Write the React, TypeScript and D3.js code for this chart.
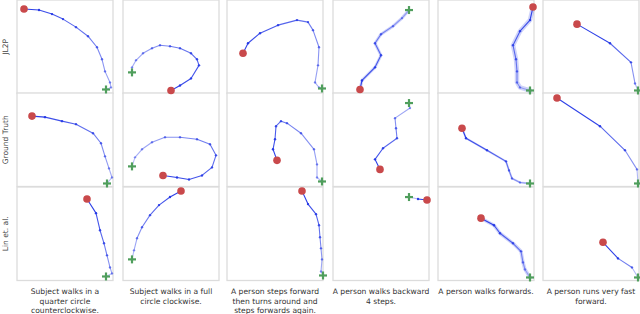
import React from "react";
import * as d3 from "d3";

const rowLabels = ["JL2P", "Ground Truth", "Lin et. al."];

const captions = [
  ["Subject walks in a", "quarter circle", "counterclockwise."],
  ["Subject walks in a full", "circle clockwise."],
  ["A person steps forward", "then turns around and", "steps forwards again."],
  ["A person walks backward", "4 steps."],
  ["A person walks forwards."],
  ["A person runs very fast", "forward."],
];

// Trajectory points in panel units (x: 0..96, y: 0..93). First = start (red dot), last = end (green plus).
const jl2pPaths: [number, number][][] = [
  [[7, 9], [22, 10], [35, 14], [46, 19], [59, 27], [71, 36], [80, 47], [85, 59], [88, 71], [93, 82], [94, 87], [89, 89]],
  [[48, 90], [57, 85], [68, 78], [76, 65], [74, 59], [68, 53], [57, 48], [47, 46], [37, 45], [29, 48], [20, 53], [13, 60], [9, 67], [9, 72]],
  [[16, 53], [21, 43], [33, 33], [51, 25], [70, 20], [81, 22], [86, 30], [92, 47], [91, 65], [88, 82], [92, 87], [95, 88]],
  [[27, 89], [29, 80], [42, 67], [48, 55], [42, 43], [48, 34], [60, 26], [69, 18], [76, 10]],
  [[95, 7], [92, 20], [82, 31], [75, 45], [78, 59], [79, 71], [79, 82], [82, 87], [92, 90]],
  [[34, 24], [67, 43], [88, 62], [92, 83], [95, 90]],
];

const truthPaths: [number, number][][] = [
  [[15, 23], [28, 24], [45, 28], [59, 31], [76, 40], [84, 50], [88, 63], [92, 75], [95, 84], [90, 90]],
  [[40, 82], [54, 84], [66, 86], [79, 82], [89, 74], [93, 62], [87, 51], [74, 46], [57, 44], [42, 44], [29, 49], [19, 56], [12, 64], [9, 73]],
  [[50, 67], [46, 56], [48, 46], [49, 33], [54, 28], [60, 30], [74, 40], [87, 56], [90, 71], [90, 84], [95, 88]],
  [[47, 76], [42, 66], [50, 55], [64, 45], [63, 35], [62, 25], [77, 15], [76, 10]],
  [[24, 35], [28, 45], [49, 57], [68, 68], [71, 77], [74, 85], [82, 89], [92, 90]],
  [[14, 5], [57, 33], [82, 57], [94, 76], [95, 90]],
];

const linPaths: [number, number][][] = [
  [[70, 12], [79, 26], [83, 43], [87, 56], [90, 68], [93, 80], [95, 86], [89, 89]],
  [[58, 4], [47, 10], [36, 18], [27, 28], [19, 40], [14, 51], [11, 63], [9, 72]],
  [[75, 4], [81, 17], [89, 27], [92, 38], [93, 50], [94, 61], [95, 72], [94, 84], [96, 88]],
  [[94, 13], [85, 12], [76, 10]],
  [[43, 31], [56, 38], [62, 46], [75, 56], [83, 64], [85, 75], [87, 82], [92, 90]],
  [[60, 55], [75, 71], [89, 80], [95, 90]],
];

// Uncertainty band widths (0 = none)
const bandWidths = [
  [0, 0, 0, 3, 4.5, 0],
  [0, 0, 0, 0, 2, 0],
  [0, 0, 0, 0, 3.5, 0],
];

const allRows = [jl2pPaths, truthPaths, linPaths];

const colLefts = [17, 123, 227, 333, 438, 543];
const rowTops = [0, 93, 187];
const PW = 96;
const PH = 93.5;

const BLUE = "rgb(35,55,230)";
const RED = "#c9494b";
const GREEN = "#4f9e5c";

function Panel({ pts, left, top, band }: { pts: [number, number][]; left: number; top: number; band: number }) {
  const x = d3.scaleLinear().domain([0, 96]).range([left, left + PW]);
  const y = d3.scaleLinear().domain([0, 93]).range([top, top + PH]);
  const line = d3.line<[number, number]>().x((d) => x(d[0])).y((d) => y(d[1]));
  const n = pts.length;
  const op = d3.scaleLinear().domain([0, n - 2]).range([0.95, 0.35]);
  const segs = d3.range(n - 1).map((i) => [pts[i], pts[i + 1]] as [number, number][]);
  const start = pts[0];
  const end = pts[n - 1];
  const cs = 4;
  return (
    <g>
      {band > 0 && (
        <path d={line(pts) || ""} fill="none" stroke={BLUE} strokeOpacity={0.22} strokeWidth={band} strokeLinejoin="round" strokeLinecap="round" />
      )}
      {segs.map((s, i) => (
        <path key={i} d={line(s) || ""} fill="none" stroke={BLUE} strokeOpacity={op(i)} strokeWidth={1.1} strokeLinecap="round" />
      ))}
      {pts.slice(1, n - 1).map((p, i) => (
        <circle key={"m" + i} cx={x(p[0])} cy={y(p[1])} r={1.2} fill={BLUE} fillOpacity={op(i)} />
      ))}
      <circle cx={x(start[0])} cy={y(start[1])} r={3.8} fill={RED} />
      <g stroke={GREEN} strokeWidth={2.2}>
        <line x1={x(end[0]) - cs} x2={x(end[0]) + cs} y1={y(end[1])} y2={y(end[1])} />
        <line x1={x(end[0])} x2={x(end[0])} y1={y(end[1]) - cs} y2={y(end[1]) + cs} />
      </g>
    </g>
  );
}

export default function App() {
  const font = "DejaVu Sans, sans-serif";
  return (
    <svg width={640} height={314} style={{ position: "absolute", left: 0, top: 0, background: "#fff" }}>
      <rect x={0} y={0} width={640} height={314} fill="#fff" />
      {rowTops.map((t, r) =>
        colLefts.map((l, c) => (
          <rect key={r + "-" + c} x={l} y={t} width={PW} height={PH} fill="#fff" stroke="#dcdcdc" strokeWidth={1.3} />
        ))
      )}
      {allRows.map((row, r) =>
        row.map((pts, c) => (
          <Panel key={r + "_" + c} pts={pts} left={colLefts[c]} top={rowTops[r]} band={bandWidths[r][c]} />
        ))
      )}
      {rowLabels.map((lab, r) => (
        <text
          key={lab}
          transform={`translate(8,${rowTops[r] + PH / 2}) rotate(-90)`}
          textAnchor="middle"
          fontFamily={font}
          fontSize={7.5}
          fill="#444"
        >
          {lab}
        </text>
      ))}
      {captions.map((lines, c) =>
        lines.map((ln, i) => (
          <text
            key={c + "-" + i}
            x={colLefts[c] + PW / 2}
            y={294 + i * 9.6}
            textAnchor="middle"
            fontFamily={font}
            fontSize={7.6}
            fill="#333"
          >
            {ln}
          </text>
        ))
      )}
    </svg>
  );
}
